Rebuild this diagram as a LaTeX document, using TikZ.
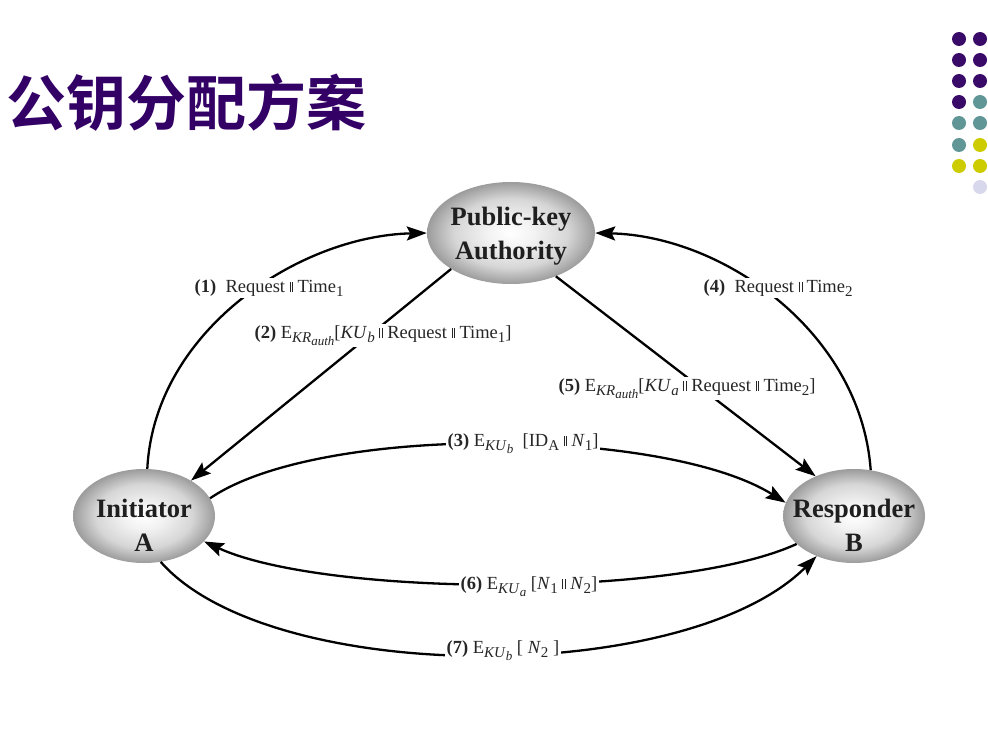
\documentclass[tikz,border=0pt]{standalone}
\usepackage{fontspec}
\setmainfont{Liberation Serif}
\newfontfamily\cjk{Noto Sans CJK SC}[BoldFont={Noto Sans CJK SC Bold}]
\usetikzlibrary{arrows.meta,shapes.geometric}

\definecolor{titlepurple}{RGB}{51,0,102}
\definecolor{dotpurple}{RGB}{58,10,104}
\definecolor{dotteal}{RGB}{96,150,150}
\definecolor{dotyellow}{RGB}{204,204,0}
\definecolor{dotlav}{RGB}{216,216,236}

% soft grey sphere look for the three parties
\pgfdeclareradialshading{orb}{\pgfpoint{0bp}{0bp}}{%
  color(0bp)=(white); color(7bp)=(white!95!black);
  color(17bp)=(gray!32); color(25bp)=(gray!78); color(50bp)=(gray!78)}

% thin double bar used as the concatenation sign
\newcommand\dbar{\ \rule[0pt]{0.55pt}{0.55em}\hspace{2.2pt}\rule[0pt]{0.55pt}{0.55em}\ }
% first and second level subscripts
\newcommand\sba[1]{\raisebox{-4.5pt}{\fontsize{15}{15}\selectfont #1}}
\newcommand\sbb[1]{\raisebox{-3pt}{\fontsize{13}{13}\selectfont #1}}

\tikzset{
  orb/.style={ellipse, shading=orb, inner sep=0pt},
  orbtext/.style={align=center, text=black!88,
    font=\fontsize{26.5}{34}\selectfont\bfseries},
  conn/.style={line width=2.3pt, -{Stealth[length=20pt,width=14pt,inset=3.5pt]}},
  lab/.style={fill=white, inner sep=1.5pt, anchor=base west, text=black!85,
    font=\fontsize{18.5}{20}\selectfont},
  dot/.style={circle, minimum size=14pt, inner sep=0pt}
}

\begin{document}
\begin{tikzpicture}[x=1pt,y=-1pt]
\useasboundingbox (0,0) rectangle (988,733);

% title
\node[anchor=west, inner sep=0pt, text=titlepurple,
  font=\cjk\bfseries\fontsize{60}{60}\selectfont] (title) at (6,103) {公钥分配方案};

% decorative dot grid
\foreach \y/\cl/\cr [count=\i] in {39/dotpurple/dotpurple, 60/dotpurple/dotpurple,
    81/dotpurple/dotpurple, 102/dotpurple/dotteal, 123/dotteal/dotteal,
    145/dotteal/dotyellow, 166/dotyellow/dotyellow} {
  \node[dot, fill=\cl] (dl\i) at (959,\y) {};
  \node[dot, fill=\cr] (dr\i) at (980,\y) {};
}
\node[dot, fill=dotlav] (dr8) at (980,187) {};

% parties
\node[orb, minimum width=168pt, minimum height=102pt] (auth) at (511,233) {};
\node[orbtext] (authtxt) at ([yshift=-3pt]auth.center) {Public-key\\Authority};
\node[orb, minimum width=142pt, minimum height=94pt] (ini) at (144,516) {};
\node[orbtext] (initxt) at ([yshift=-9pt]ini.center) {Initiator\\A};
\node[orb, minimum width=142pt, minimum height=94pt] (resp) at (854,516) {};
\node[orbtext] (resptxt) at ([yshift=-9pt]resp.center) {Responder\\B};

% messages
\draw[conn] (ini.86) .. controls +(7,-138) and +(-128,3) .. (auth.west);
\draw[conn] (auth.211) -- (ini.37);
\draw[conn] (ini.15) .. controls +(110,-75) and +(-120,-75) .. (resp.169);
\draw[conn] (resp.70) .. controls +(-10,-138) and +(128,3) .. (auth.east);
\draw[conn] (auth.316) -- (resp.134);
\draw[conn] (resp.206) .. controls +(-120,55) and +(120,55) .. (ini.337);
\draw[conn] (ini.290) .. controls +(110,125) and +(-130,130) .. (resp.227);

% message labels
\node[lab] (l1) at (193,292) {\textbf{(1)}\ \ Request\dbar Time\sba{1}};
\node[lab] (l2) at (253,338) {\textbf{(2)} E\sba{\textit{KR}\sbb{\textit{auth}}}[\textit{KU}\sba{\textit{b}}\dbar Request\dbar Time\sba{1}]};
\node[lab] (l3) at (446,446) {\textbf{(3)} E\sba{\textit{KU}\sbb{\textit{b}}}\ \ [ID\sba{A}\dbar\textit{N}\sba{1}]};
\node[lab] (l4) at (702,292) {\textbf{(4)}\ \ Request\dbar Time\sba{2}};
\node[lab] (l5) at (557,391) {\textbf{(5)} E\sba{\textit{KR}\sbb{\textit{auth}}}[\textit{KU}\sba{\textit{a}}\dbar Request\dbar Time\sba{2}]};
\node[lab] (l6) at (459,589) {\textbf{(6)} E\sba{\textit{KU}\sbb{\textit{a}}} [\textit{N}\sba{1}\dbar\textit{N}\sba{2}]};
\node[lab] (l7) at (445,653) {\textbf{(7)} E\sba{\textit{KU}\sbb{\textit{b}}} [ \textit{N}\sba{2} ]};
\end{tikzpicture}
\end{document}
